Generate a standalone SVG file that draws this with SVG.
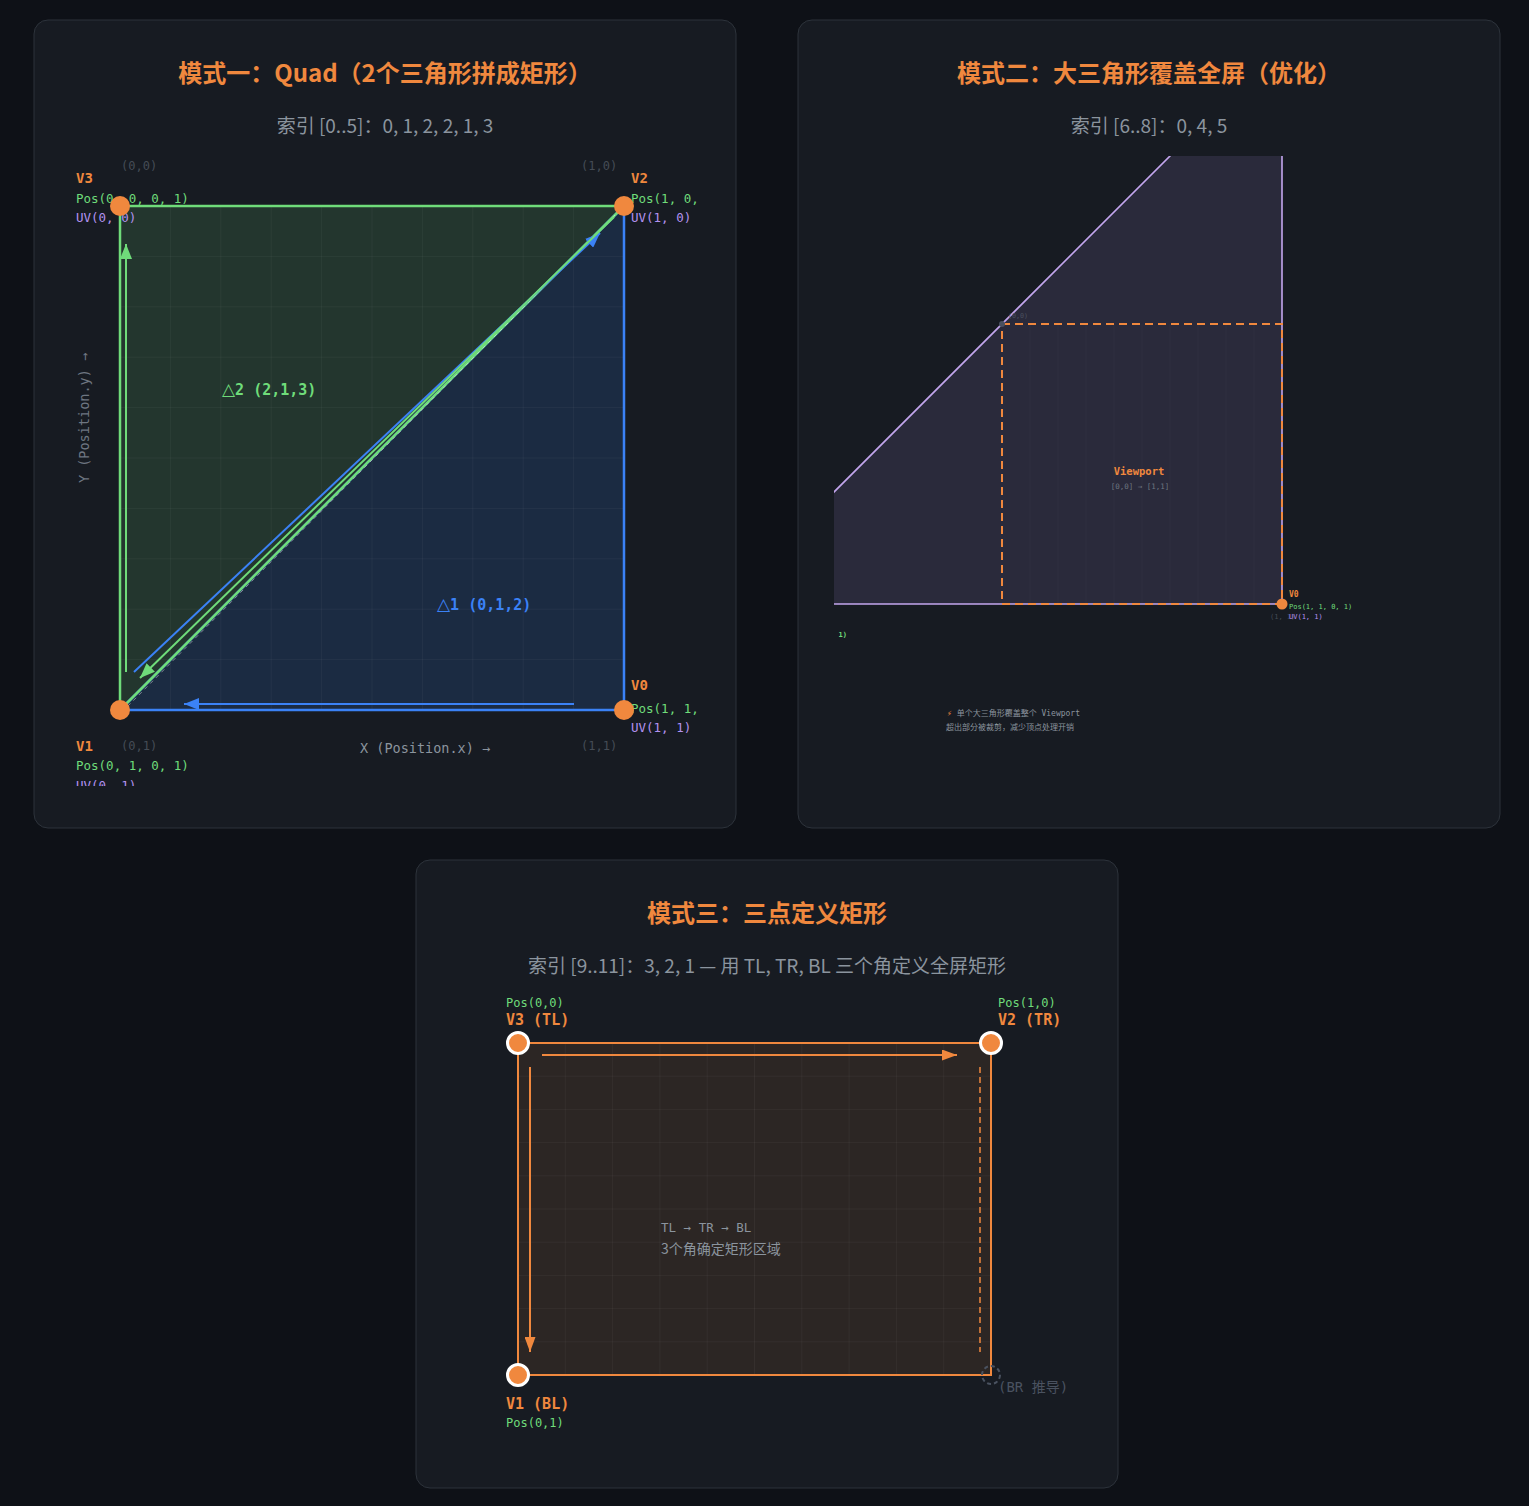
<svg xmlns="http://www.w3.org/2000/svg" width="1529" height="1506" viewBox="0 0 1529 1506">
<defs>
<style>
.panel{fill:#171b22;stroke:#2d333b;stroke-width:1}
.title{font-family:"Noto Sans CJK SC","Noto Sans",sans-serif;font-size:24px;font-weight:700;fill:#f0883e;text-anchor:middle}
.sub{font-family:"Noto Sans CJK SC","Noto Sans",sans-serif;font-size:19px;fill:#8b949e;text-anchor:middle}
.mono{font-family:"DejaVu Sans Mono","Liberation Mono","Noto Sans CJK SC",monospace}
.cjk{font-family:"Noto Sans CJK SC","Noto Sans",sans-serif}
.vl{font-weight:700;fill:#f0883e;font-size:14px}
.pos{fill:#6fdc7a;font-size:12.5px}
.uv{fill:#b392f0;font-size:12.5px}
.co{fill:#454c56;font-size:12px}
.grid{stroke:#ffffff;stroke-opacity:0.045;stroke-width:1;fill:none}
.grid2{stroke:#ffffff;stroke-opacity:0.025;stroke-width:1;fill:none}
.vtx{fill:#f0883e}
.vtx3{fill:#f0883e;stroke:#ffffff;stroke-width:3}
.tri{font-family:"DejaVu Sans",sans-serif;font-size:17px;font-weight:400}
</style>
<clipPath id="c1"><rect x="70" y="156" width="630" height="630"/></clipPath>
<clipPath id="c2"><rect x="834" y="156" width="630" height="630"/></clipPath>
<marker id="ab" markerWidth="15" markerHeight="12" refX="15" refY="6" orient="auto" markerUnits="userSpaceOnUse"><path d="M0,0 L15,6 L0,12 Z" fill="#3b82f6"/></marker>
<marker id="ag" markerWidth="15" markerHeight="12" refX="15" refY="6" orient="auto" markerUnits="userSpaceOnUse"><path d="M0,0 L15,6 L0,12 Z" fill="#6fdc7a"/></marker>
<marker id="ao" markerWidth="15" markerHeight="11" refX="15" refY="5.5" orient="auto" markerUnits="userSpaceOnUse"><path d="M0,0 L15,5.5 L0,11 Z" fill="#f0883e"/></marker>
</defs>
<rect width="1529" height="1506" fill="#0e1117"/>

<!-- Panel 1 -->
<g id="panel1">
<rect class="panel" x="34" y="20" width="702" height="808" rx="14"/>
<text class="title" x="385" y="82">模式一：Quad（2个三角形拼成矩形）</text>
<text class="sub" x="385" y="133">索引 [0..5]：0, 1, 2, 2, 1, 3</text>
<g clip-path="url(#c1)">
<g id="tri1">
<polygon points="624,710 120,710 624,206" fill="#388bfd" fill-opacity="0.15"/>
</g>
<g id="tri2">
<polygon points="120,206 120,710 624,206" fill="#6fdc7a" fill-opacity="0.14"/>
</g>
<path class="grid" d="M170.4 206V710M220.8 206V710M271.2 206V710M321.6 206V710M372 206V710M422.4 206V710M472.8 206V710M523.2 206V710M573.6 206V710M120 256.4H624M120 306.8H624M120 357.2H624M120 407.6H624M120 458H624M120 508.4H624M120 558.8H624M120 609.2H624M120 659.6H624"/>
<polygon points="624,710 120,710 624,206" fill="none" stroke="#3b82f6" stroke-width="2.5" stroke-linejoin="round"/>
<polygon points="120,206 120,710 624,206" fill="none" stroke="#6fdc7a" stroke-width="2.5" stroke-linejoin="round"/>
<g id="connectors1">
<line x1="122" y1="712" x2="622" y2="208" stroke="#ffffff" stroke-opacity="0.45" stroke-width="1" stroke-dasharray="4 4"/>
<line x1="574" y1="704" x2="184" y2="704" stroke="#3b82f6" stroke-width="2" marker-end="url(#ab)"/>
<line x1="134" y1="672" x2="600" y2="233" stroke="#3b82f6" stroke-width="2" marker-end="url(#ab)"/>
<line x1="614" y1="217" x2="140" y2="678" stroke="#6fdc7a" stroke-width="2" marker-end="url(#ag)"/>
<line x1="126" y1="672" x2="126" y2="244" stroke="#6fdc7a" stroke-width="2" marker-end="url(#ag)"/>
</g>
<text class="mono" x="222" y="395" font-size="15" font-weight="700" fill="#6fdc7a"><tspan class="tri">△</tspan>2 (2,1,3)</text>
<text class="mono" x="437" y="610" font-size="15" font-weight="700" fill="#3b82f6"><tspan class="tri">△</tspan>1 (0,1,2)</text>
<text class="mono co" x="121" y="170">(0,0)</text>
<text class="mono co" x="581" y="170">(1,0)</text>
<text class="mono co" x="121" y="750">(0,1)</text>
<text class="mono co" x="581" y="750">(1,1)</text>
<text class="mono" x="360" y="753" font-size="13.5" fill="#8b949e">X (Position.x) →</text>
<text class="mono" transform="translate(89,418) rotate(-90)" text-anchor="middle" font-size="13.5" fill="#6e7681">Y (Position.y) →</text>
<g id="v3">
<text class="mono vl" x="76" y="183">V3</text>
<text class="mono pos" x="76" y="203">Pos(0, 0, 0, 1)</text>
<text class="mono uv" x="76" y="222">UV(0, 0)</text>
<circle class="vtx" cx="120" cy="206" r="10"/>
</g>
<g id="v2">
<text class="mono vl" x="631" y="183">V2</text>
<text class="mono pos" x="631" y="203">Pos(1, 0, 0, 1)</text>
<text class="mono uv" x="631" y="222">UV(1, 0)</text>
<circle class="vtx" cx="624" cy="206" r="10"/>
</g>
<g id="v0">
<text class="mono vl" x="631" y="690">V0</text>
<text class="mono pos" x="631" y="713">Pos(1, 1, 0, 1)</text>
<text class="mono uv" x="631" y="732">UV(1, 1)</text>
<circle class="vtx" cx="624" cy="710" r="10"/>
</g>
<g id="v1">
<text class="mono vl" x="76" y="751">V1</text>
<text class="mono pos" x="76" y="770">Pos(0, 1, 0, 1)</text>
<text class="mono uv" x="76" y="790">UV(0, 1)</text>
<circle class="vtx" cx="120" cy="710" r="10"/>
</g>
</g>
</g>

<!-- Panel 2 -->
<g id="panel2">
<rect class="panel" x="798" y="20" width="702" height="808" rx="14"/>
<text class="title" x="1149" y="82">模式二：大三角形覆盖全屏（优化）</text>
<text class="sub" x="1149" y="133">索引 [6..8]：0, 4, 5</text>
<g clip-path="url(#c2)">
<g id="bigtri">
<polygon points="1282,604 1282,44 722,604" fill="#2a2a3b" stroke="#c3a6ee" stroke-width="1.6"/>
</g>
<path class="grid2" d="M1030 324V604M1058 324V604M1086 324V604M1114 324V604M1142 324V604M1170 324V604M1198 324V604M1226 324V604M1254 324V604"/>
<g id="viewport">
<rect x="1002" y="324" width="280" height="280" fill="none" stroke="#f0883e" stroke-width="2" stroke-dasharray="8 5"/>
<text class="mono" x="1139" y="475" text-anchor="middle" font-size="10.5" font-weight="700" fill="#f0883e">Viewport</text>
<text class="mono" x="1140" y="489" text-anchor="middle" font-size="7.5" fill="#6e7681">[0,0] → [1,1]</text>
</g>
<circle cx="1002" cy="324" r="3" fill="#4a5060"/>
<text class="mono" x="1008" y="318" font-size="6.7" fill="#4a5260">(0,0)</text>
<g id="p2v1">
<text class="mono" x="847" y="637" text-anchor="end" font-size="7" fill="#6fdc7a" font-weight="700">Pos(-1, 1, 0, 1)</text>
</g>
<g id="p2v0">
<text class="mono" x="1270" y="619" font-size="7" fill="#454c56">(1, 1)</text>
<text class="mono" x="1289" y="597" font-size="8" font-weight="700" fill="#f0883e">V0</text>
<text class="mono" x="1289" y="609" font-size="7" fill="#6fdc7a">Pos(1, 1, 0, 1)</text>
<text class="mono" x="1289" y="619" font-size="7" fill="#b392f0">UV(1, 1)</text>
<circle class="vtx" cx="1282" cy="604" r="5.5"/>
</g>
<g id="note">
<text class="mono" x="947" y="716" font-size="8" fill="#8b949e"><tspan fill="#f0883e">⚡</tspan> 单个大三角形覆盖整个 Viewport</text>
<text class="mono" x="946" y="730" font-size="8" fill="#8b949e">超出部分被裁剪，减少顶点处理开销</text>
</g>
</g>
</g>

<!-- Panel 3 -->
<g id="panel3">
<rect class="panel" x="416" y="860" width="702" height="628" rx="14"/>
<text class="title" x="767" y="922">模式三：三点定义矩形</text>
<text class="sub" x="767" y="973">索引 [9..11]：3, 2, 1 — 用 TL, TR, BL 三个角定义全屏矩形</text>
<g id="rect3">
<rect x="518" y="1043" width="473" height="332" fill="#f0883e" fill-opacity="0.1"/>
<path class="grid" d="M565.3 1043V1375M612.6 1043V1375M659.9 1043V1375M707.2 1043V1375M754.5 1043V1375M801.8 1043V1375M849.1 1043V1375M896.4 1043V1375M943.7 1043V1375M518 1076.2H991M518 1109.4H991M518 1142.6H991M518 1175.8H991M518 1209H991M518 1242.2H991M518 1275.4H991M518 1308.6H991M518 1341.8H991"/>
<rect x="518" y="1043" width="473" height="332" fill="none" stroke="#f0883e" stroke-width="2"/>
</g>
<g id="connectors3">
<line x1="542" y1="1055" x2="957" y2="1055" stroke="#f0883e" stroke-width="2" marker-end="url(#ao)"/>
<line x1="530" y1="1067" x2="530" y2="1352" stroke="#f0883e" stroke-width="2" marker-end="url(#ao)"/>
<line x1="980" y1="1067" x2="980" y2="1352" stroke="#f0883e" stroke-width="1.5" stroke-dasharray="6 4"/>
</g>
<text class="mono" x="661" y="1232" font-size="12.5" fill="#8b949e">TL → TR → BL</text>
<text class="cjk" x="661" y="1254" font-size="14" fill="#8b949e">3个角确定矩形区域</text>
<g id="tl">
<text class="mono" x="506" y="1007" font-size="12" fill="#6fdc7a">Pos(0,0)</text>
<text class="mono" x="506" y="1025" font-size="15" font-weight="700" fill="#f0883e">V3 (TL)</text>
<circle class="vtx3" cx="518" cy="1043" r="10.5"/>
</g>
<g id="tr">
<text class="mono" x="998" y="1007" font-size="12" fill="#6fdc7a">Pos(1,0)</text>
<text class="mono" x="998" y="1025" font-size="15" font-weight="700" fill="#f0883e">V2 (TR)</text>
<circle class="vtx3" cx="991" cy="1043" r="10.5"/>
</g>
<g id="bl">
<text class="mono" x="506" y="1409" font-size="15" font-weight="700" fill="#f0883e">V1 (BL)</text>
<text class="mono" x="506" y="1427" font-size="12" fill="#6fdc7a">Pos(0,1)</text>
<circle class="vtx3" cx="518" cy="1375" r="10.5"/>
</g>
<g id="br">
<circle cx="991" cy="1375" r="9" fill="none" stroke="#4a5260" stroke-width="2" stroke-dasharray="4 3"/>
<text class="mono" x="998" y="1392" font-size="14" fill="#4a5260">(BR 推导)</text>
</g>
</g>
</svg>
